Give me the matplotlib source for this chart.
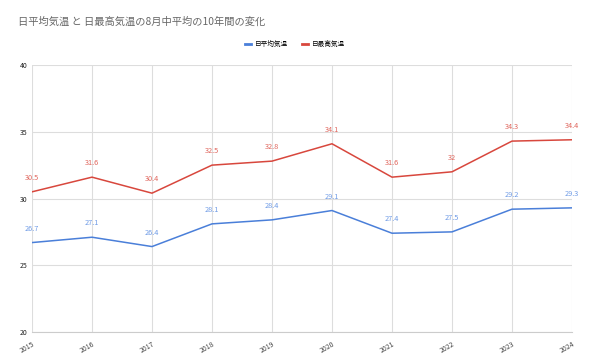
import matplotlib
matplotlib.use("Agg")
import matplotlib.pyplot as plt

plt.rcParams["font.family"] = ["Noto Sans CJK JP", "DejaVu Sans"]

years = [2015, 2016, 2017, 2018, 2019, 2020, 2021, 2022, 2023, 2024]
avg_temp = [26.7, 27.1, 26.4, 28.1, 28.4, 29.1, 27.4, 27.5, 29.2, 29.3]
max_temp = [30.5, 31.6, 30.4, 32.5, 32.8, 34.1, 31.6, 32.0, 34.3, 34.4]
avg_labels = ["26.7", "27.1", "26.4", "28.1", "28.4", "29.1", "27.4", "27.5", "29.2", "29.3"]
max_labels = ["30.5", "31.6", "30.4", "32.5", "32.8", "34.1", "31.6", "32", "34.3", "34.4"]
series_names = ["日平均気温", "日最高気温"]

blue = "#4a7fd9"
red = "#d8473d"

fig = plt.figure(figsize=(5.9, 3.64), dpi=100)
ax = fig.add_axes([0.0542, 0.0879, 0.9153, 0.7335])

ax.plot(years, avg_temp, color=blue, linewidth=1.1, label=series_names[0])
ax.plot(years, max_temp, color=red, linewidth=1.1, label=series_names[1])

for x, y, s in zip(years, avg_temp, avg_labels):
    ax.annotate(s, (x, y), xytext=(0, 7), textcoords="offset points",
                ha="center", va="bottom", fontsize=5.3, color="#6f9be6")
for x, y, s in zip(years, max_temp, max_labels):
    ax.annotate(s, (x, y), xytext=(0, 7), textcoords="offset points",
                ha="center", va="bottom", fontsize=5.3, color="#e0665d")

ax.set_xlim(2015, 2024)
ax.set_ylim(20, 40)
ax.set_xticks(years)
ax.set_xticklabels([str(y) for y in years], rotation=30, fontsize=5, color="#444444",
                   ha="right", rotation_mode="anchor")
ax.set_yticks([20, 25, 30, 35, 40])
ax.set_yticklabels(["20", "25", "30", "35", "40"], fontsize=5, color="#222222")
ax.tick_params(length=0, pad=3)
ax.tick_params(axis="x", pad=6)

ax.grid(True, color="#dddddd", linewidth=0.8)
for side in ["top", "right", "left"]:
    ax.spines[side].set_visible(False)
ax.spines["bottom"].set_color("#cccccc")
ax.set_axisbelow(True)

fig.text(0.03, 0.94, "日平均気温 と 日最高気温の8月中平均の10年間の変化",
         fontsize=7.4, color="#666666", va="center")

leg = fig.legend(loc="center", bbox_to_anchor=(0.5, 0.878), ncol=2, frameon=False,
                 fontsize=4.8, handlelength=1.0, handletextpad=0.6, columnspacing=2.0)
for line in leg.get_lines():
    line.set_linewidth(2)

fig.savefig("out.png", dpi=100)
